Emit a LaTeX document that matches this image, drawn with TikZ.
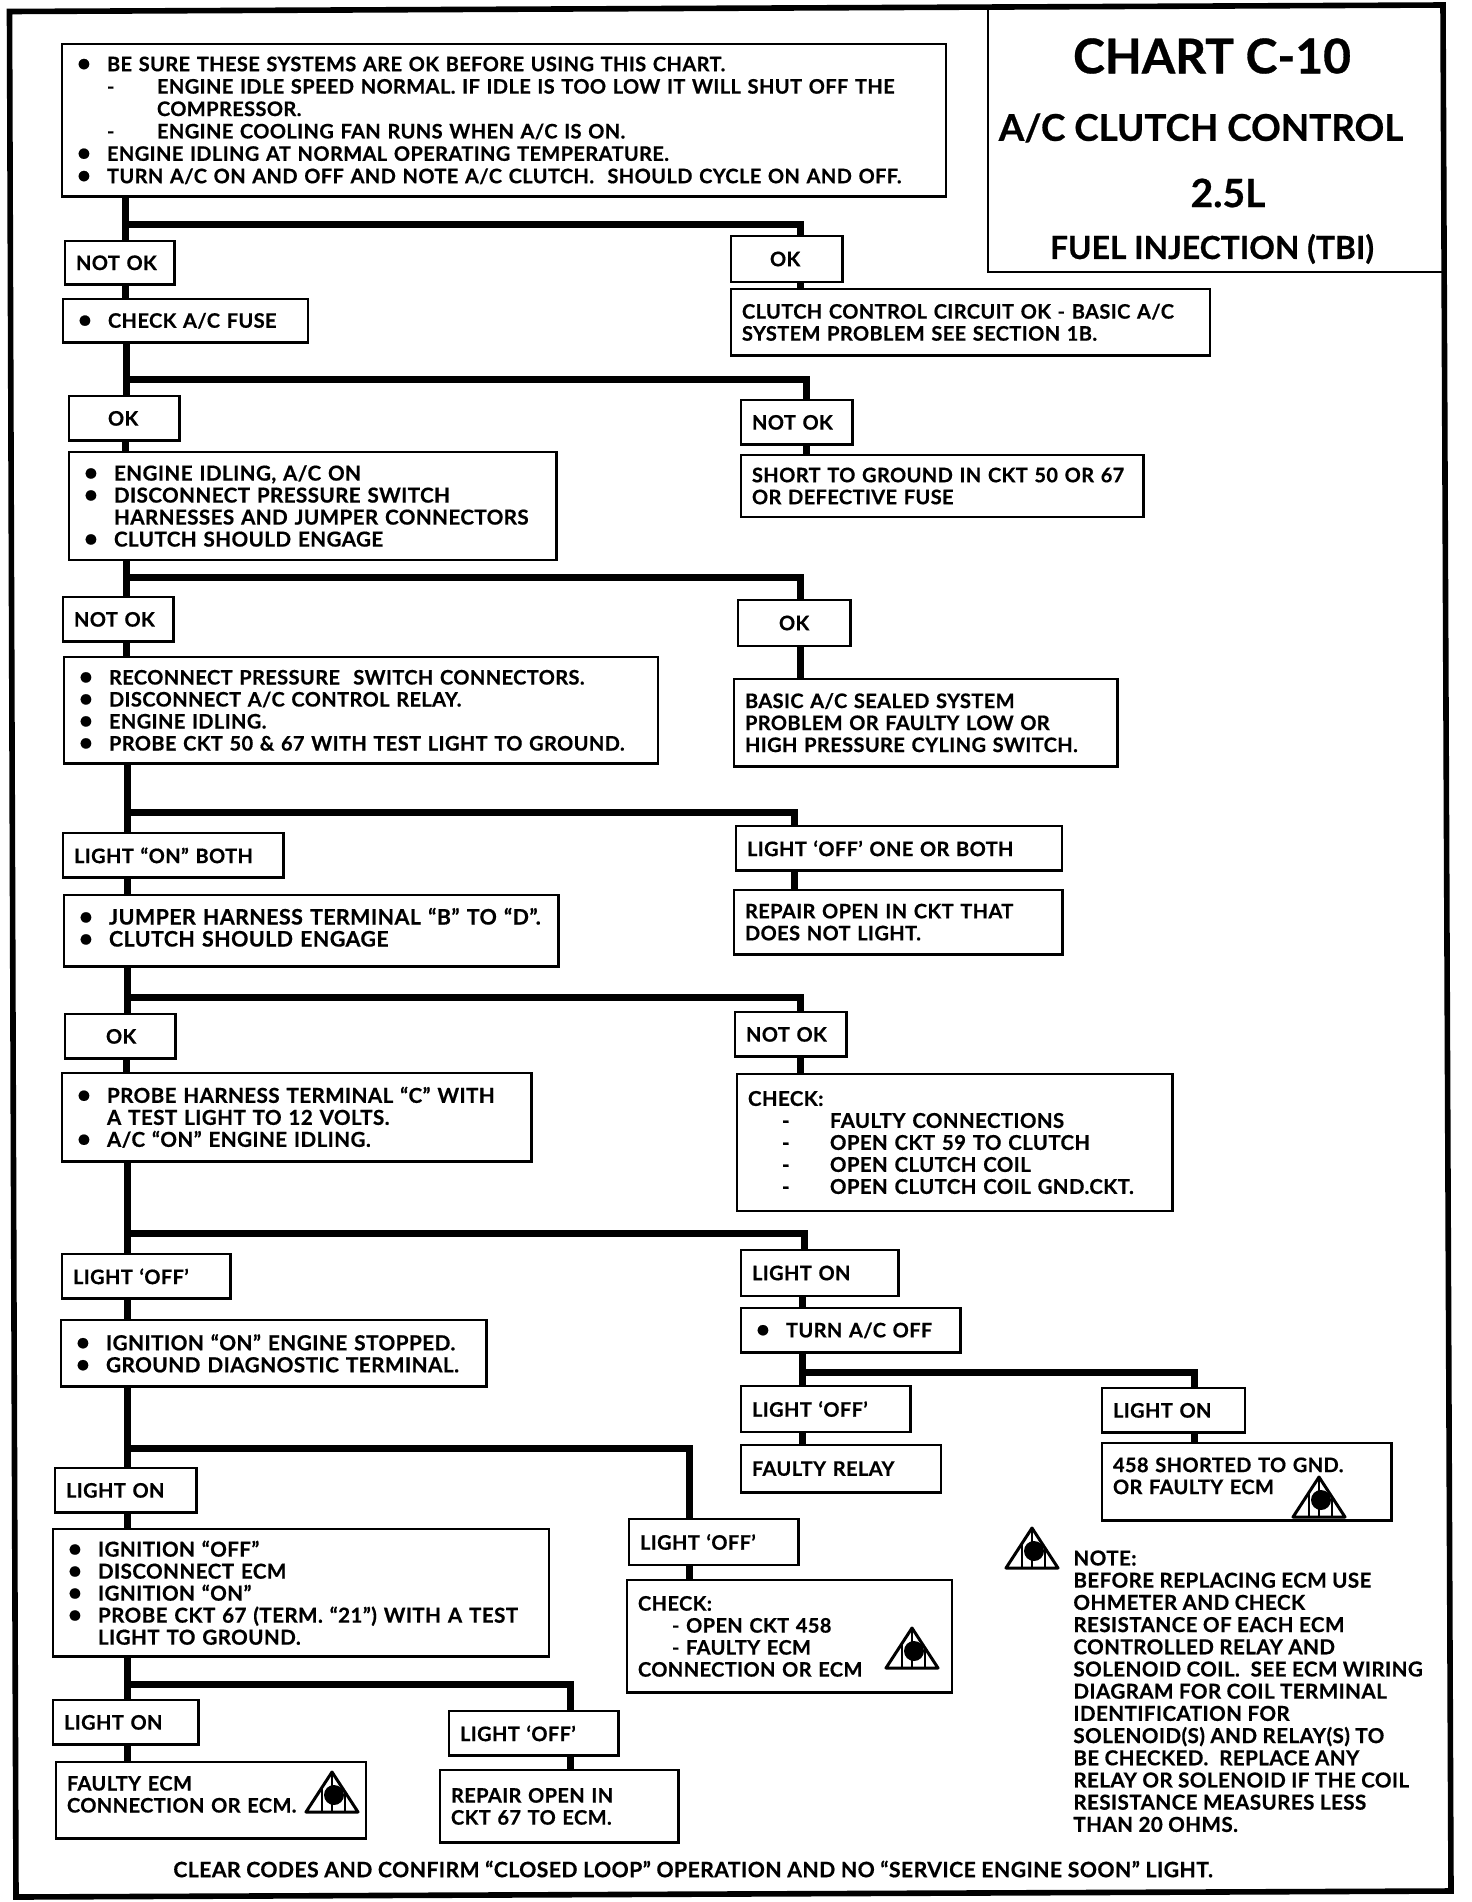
\documentclass[tikz,border=0pt]{standalone}
\usepackage{fontspec}
\setmainfont{Lato}[BoldFont={Lato Bold}, BoldFeatures={FakeBold=0.6, LetterSpace=2}]
\newfontfamily\ttlfont{Lato Bold}[FakeBold=0.6]
\usetikzlibrary{positioning}
\newcommand{\bul}{\hspace*{2pt}\makebox[15pt][l]{\large\textbullet}}
\newcommand{\hng}{\hspace*{17pt}}
\newcommand{\dsh}{\hspace*{17pt}\makebox[25pt][l]{-}}
\tikzset{
  bx/.style 2 args={draw, line width=1.4pt, anchor=north west, align=left, outer sep=0pt,
    inner xsep=5.5pt, inner ysep=0pt, text width={#1pt-11pt}, minimum height=#2pt,
    font=\fontsize{10}{11}\selectfont\bfseries},
  fs/.style={font=\fontsize{#1}{11}\selectfont\bfseries},
  txt/.style={inner sep=0pt, align=left, font=\fontsize{10.3}{11.1}\selectfont\bfseries},
  frame/.style 2 args={draw, anchor=north west, inner sep=0pt, outer sep=0pt,
    minimum width=#1pt, minimum height=#2pt},
  link/.style={line width=3.5pt},
  warn/.pic={
    \draw[line width=1.5pt, line join=round] (0,0) -- (-26,40) -- (26,40) -- cycle;
    \draw[line width=1.4pt] (-10,14) -- (-10,40) (0,0) -- (0,40) (13,20) -- (13,40);
    \fill (2,23) circle (5pt);
  },
}
\begin{document}
\begin{tikzpicture}[x=0.5pt, y=-0.5pt]
  \useasboundingbox (0,0) rectangle (1472,1902);
  \draw[line width=2.8pt] (9.5,11.5) -- (1443,5) -- (1451,1891) -- (16,1897) -- cycle;
  \node[frame={228}{133}, line width=1.4pt] (chart) at (988,6) {};
  \node[txt, font=\fontsize{24}{24}\selectfont\ttlfont] (ttlA) at (1212,56) {CHART C-10};
  \node[txt, font=\fontsize{18.4}{20}\selectfont\ttlfont] (ttlB) at (1201,128) {A/C CLUTCH CONTROL};
  \node[txt, font=\fontsize{19.5}{20}\selectfont\ttlfont] (ttlC) at (1228,193) {2.5L};
  \node[txt, font=\fontsize{15.9}{16}\selectfont\ttlfont] (ttlD) at (1212,249) {FUEL INJECTION (TBI)};

  \node[bx={442}{76.4}, font=\fontsize{10}{11.2}\selectfont\bfseries] (first) at (62,44) {\bul BE SURE THESE SYSTEMS ARE OK BEFORE USING THIS CHART.\\
    \dsh ENGINE IDLE SPEED NORMAL. IF IDLE IS TOO LOW IT WILL SHUT OFF THE\\
    \hng\hspace*{25pt}COMPRESSOR.\\
    \dsh ENGINE COOLING FAN RUNS WHEN A/C IS ON.\\
    \bul ENGINE IDLING AT NORMAL OPERATING TEMPERATURE.\\
    \bul TURN A/C ON AND OFF AND NOTE A/C CLUTCH.\ \ SHOULD CYCLE ON AND OFF.};
  \node[bx={54.6}{21.8}] (nokA) at (65,241) {NOT OK};
  \node[bx={55.8}{23}] (okA) at (731,236) {\hspace*{14pt}OK};
  \node[bx={122.5}{21.8}] (fuse) at (63,299) {\bul CHECK A/C FUSE};
  \node[bx={239.5}{33.3}] (circok) at (731,289) {CLUTCH CONTROL CIRCUIT OK - BASIC A/C\\SYSTEM PROBLEM SEE SECTION 1B.};
  \node[bx={55.2}{22.4}] (okB) at (69,396) {\hspace*{14pt}OK};
  \node[bx={55.8}{22.4}] (nokB) at (741,400) {NOT OK};
  \node[bx={243.7}{54}, fs=10.3] (idle) at (69,452) {\bul ENGINE IDLING,\ A/C ON\\
    \bul DISCONNECT PRESSURE SWITCH\\
    \hng HARNESSES AND JUMPER CONNECTORS\\
    \bul CLUTCH SHOULD ENGAGE};
  \node[bx={201.3}{31}] (short) at (741,455) {SHORT TO GROUND IN CKT 50 OR 67\\OR DEFECTIVE FUSE};
  \node[bx={55.2}{22.4}] (nokC) at (63,597) {NOT OK};
  \node[bx={56.4}{23}] (okC) at (738,600) {\hspace*{15pt}OK};
  \node[bx={297}{53.3}] (recon) at (64,657) {\bul RECONNECT PRESSURE\ \ SWITCH CONNECTORS.\\
    \bul DISCONNECT A/C CONTROL RELAY.\\
    \bul ENGINE IDLING.\\
    \bul PROBE CKT 50 \& 67 WITH TEST LIGHT TO GROUND.};
  \node[bx={191.6}{43.7}] (sealed) at (734,679) {BASIC A/C SEALED SYSTEM\\PROBLEM OR FAULTY LOW OR\\HIGH PRESSURE CYLING SWITCH.};
  \node[bx={110.3}{22.4}] (onD) at (63,833) {LIGHT “ON” BOTH};
  \node[bx={163}{22.4}] (offD) at (736,826) {LIGHT ‘OFF’ ONE OR BOTH};
  \node[bx={247.3}{35.8}, fs=10.7] (jumper) at (64,895) {\bul JUMPER HARNESS TERMINAL “B” TO “D”.\\\bul CLUTCH SHOULD ENGAGE\\[-7.4pt]\mbox{}};
  \node[bx={164.3}{32.1}] (repA) at (734,890) {REPAIR OPEN IN CKT THAT\\DOES NOT LIGHT.};
  \node[bx={55.2}{22.4}] (okE) at (65,1014) {\hspace*{15pt}OK};
  \node[bx={55.8}{22.4}] (nokE) at (735,1012) {NOT OK};
  \node[bx={234.6}{44.3}, fs=10.3] (probe) at (62,1073) {\bul PROBE HARNESS TERMINAL “C” WITH\\\hng A TEST LIGHT TO 12 VOLTS.\\\bul A/C “ON” ENGINE IDLING.};
  \node[bx={217.7}{68.5}, fs=10.2] (check) at (737,1074) {CHECK:\\
    \hng\makebox[24pt][l]{-}FAULTY CONNECTIONS\\
    \hng\makebox[24pt][l]{-}OPEN CKT 59 TO CLUTCH\\
    \hng\makebox[24pt][l]{-}OPEN CLUTCH COIL\\
    \hng\makebox[24pt][l]{-}OPEN CLUTCH COIL GND.CKT.};
  \node[bx={84.3}{22.4}] (offF) at (62,1254) {LIGHT\ ‘OFF’};
  \node[bx={78.8}{23}] (onF) at (741,1250) {LIGHT ON};
  \node[bx={109.7}{22.4}] (turn) at (741,1308) {\bul TURN A/C OFF};
  \node[bx={212.8}{33.3}, fs=10.4] (ign) at (61,1320) {\bul IGNITION “ON” ENGINE STOPPED.\\\bul GROUND DIAGNOSTIC TERMINAL.};
  \node[bx={84.9}{23}] (offG) at (741,1386) {LIGHT\ ‘OFF’};
  \node[bx={71.5}{22.4}] (onG) at (1102,1388) {LIGHT ON};
  \node[bx={100}{23.6}] (relay) at (741,1445) {FAULTY RELAY};
  \node[bx={144.9}{38.8}] (shrt) at (1102,1443) {458 SHORTED TO GND.\\OR FAULTY ECM\\[-5pt]\mbox{}};
  \node[bx={70.9}{22.4}] (onH) at (55,1468) {LIGHT ON};
  \node[bx={84.9}{23}] (offH) at (629,1519) {LIGHT\ ‘OFF’};
  \node[bx={248}{63.7}, fs=10.3] (ignoff) at (53,1529) {\bul IGNITION “OFF”\\
    \bul DISCONNECT ECM\\
    \bul IGNITION “ON”\\
    \bul PROBE CKT 67 (TERM. “21”) WITH A TEST\\
    \hng LIGHT TO GROUND.};
  \node[bx={162.5}{56.4}] (chkb) at (627,1580) {CHECK:\\\hspace*{17pt}- OPEN CKT 458\\\hspace*{17pt}- FAULTY ECM\\CONNECTION OR ECM};
  \node[bx={72.8}{22.4}] (onI) at (53,1700) {LIGHT ON};
  \node[bx={84.9}{22.4}] (offI) at (449,1711) {LIGHT\ ‘OFF’};
  \node[bx={155}{38.2}] (faulty) at (56,1762) {FAULTY ECM\\CONNECTION OR ECM.\\[-5pt]\mbox{}};
  \node[bx={119.4}{36.4}] (repB) at (440,1770) {REPAIR OPEN IN\\CKT 67 TO ECM.};

  \node[txt, anchor=north west] (note) at (1073,1550) {NOTE:\\BEFORE REPLACING ECM USE\\OHMETER AND CHECK\\RESISTANCE OF EACH ECM\\CONTROLLED RELAY AND\\SOLENOID COIL.\ \ SEE ECM WIRING\\DIAGRAM FOR COIL TERMINAL\\IDENTIFICATION FOR\\SOLENOID(S) AND RELAY(S) TO\\BE CHECKED.\ \ REPLACE ANY\\RELAY OR SOLENOID IF THE COIL\\RESISTANCE MEASURES LESS\\THAN 20 OHMS.};
  \node[txt, fs=10.6] (clear) at (693,1869) {CLEAR CODES AND CONFIRM “CLOSED LOOP” OPERATION AND NO “SERVICE ENGINE SOON” LIGHT.};

  \pic at (1319,1477) {warn};
  \pic at (1032,1528) {warn};
  \pic at (332,1772) {warn};
  \pic at (912,1628) {warn};

  \draw[link] (first.south -| 125,0) -- (nokA.north -| 125,0);
  \draw[link] (first.south -| 125,0) |- (800,224) -- (okA.north -| 800,0);
  \draw[link] (okA.south -| 800,0) -- (circok.north -| 800,0);
  \draw[link] (nokA.south -| 125,0) -- (fuse.north -| 125,0);
  \draw[link] (fuse.south -| 126,0) -- (okB.north -| 126,0);
  \draw[link] (fuse.south -| 126,0) |- (806,379) -- (nokB.north -| 806,0);
  \draw[link] (okB.south -| 125,0) -- (idle.north -| 125,0);
  \draw[link] (nokB.south -| 806,0) -- (short.north -| 806,0);
  \draw[link] (idle.south -| 126,0) -- (nokC.north -| 126,0);
  \draw[link] (idle.south -| 126,0) |- (800,577) -- (okC.north -| 800,0);
  \draw[link] (nokC.south -| 126,0) -- (recon.north -| 126,0);
  \draw[link] (okC.south -| 800,0) -- (sealed.north -| 800,0);
  \draw[link] (recon.south -| 127,0) -- (onD.north -| 127,0);
  \draw[link] (recon.south -| 127,0) |- (794,812) -- (offD.north -| 794,0);
  \draw[link] (offD.south -| 794,0) -- (repA.north -| 794,0);
  \draw[link] (onD.south -| 127,0) -- (jumper.north -| 127,0);
  \draw[link] (jumper.south -| 127,0) -- (okE.north -| 127,0);
  \draw[link] (jumper.south -| 127,0) |- (800,997) -- (nokE.north -| 800,0);
  \draw[link] (okE.south -| 126,0) -- (probe.north -| 126,0);
  \draw[link] (nokE.south -| 800,0) -- (check.north -| 800,0);
  \draw[link] (probe.south -| 127,0) -- (offF.north -| 127,0);
  \draw[link] (probe.south -| 127,0) |- (804,1233) -- (onF.north -| 804,0);
  \draw[link] (offF.south -| 127,0) -- (ign.north -| 127,0);
  \draw[link] (onF.south -| 802,0) -- (turn.north -| 802,0);
  \draw[link] (turn.south -| 802,0) -- (offG.north -| 802,0);
  \draw[link] (turn.south -| 802,0) |- (1194,1372) -- (onG.north -| 1194,0);
  \draw[link] (offG.south -| 802,0) -- (relay.north -| 802,0);
  \draw[link] (onG.south -| 1194,0) -- (shrt.north -| 1194,0);
  \draw[link] (ign.south -| 127,0) -- (onH.north -| 127,0);
  \draw[link] (ign.south -| 127,0) |- (689,1448) -- (offH.north -| 689,0);
  \draw[link] (onH.south -| 127,0) -- (ignoff.north -| 127,0);
  \draw[link] (offH.south -| 689,0) -- (chkb.north -| 689,0);
  \draw[link] (ignoff.south -| 127,0) -- (onI.north -| 127,0);
  \draw[link] (ignoff.south -| 127,0) |- (570,1684) -- (offI.north -| 570,0);
  \draw[link] (onI.south -| 127,0) -- (faulty.north -| 127,0);
  \draw[link] (offI.south -| 570,0) -- (repB.north -| 570,0);
\end{tikzpicture}
\end{document}
